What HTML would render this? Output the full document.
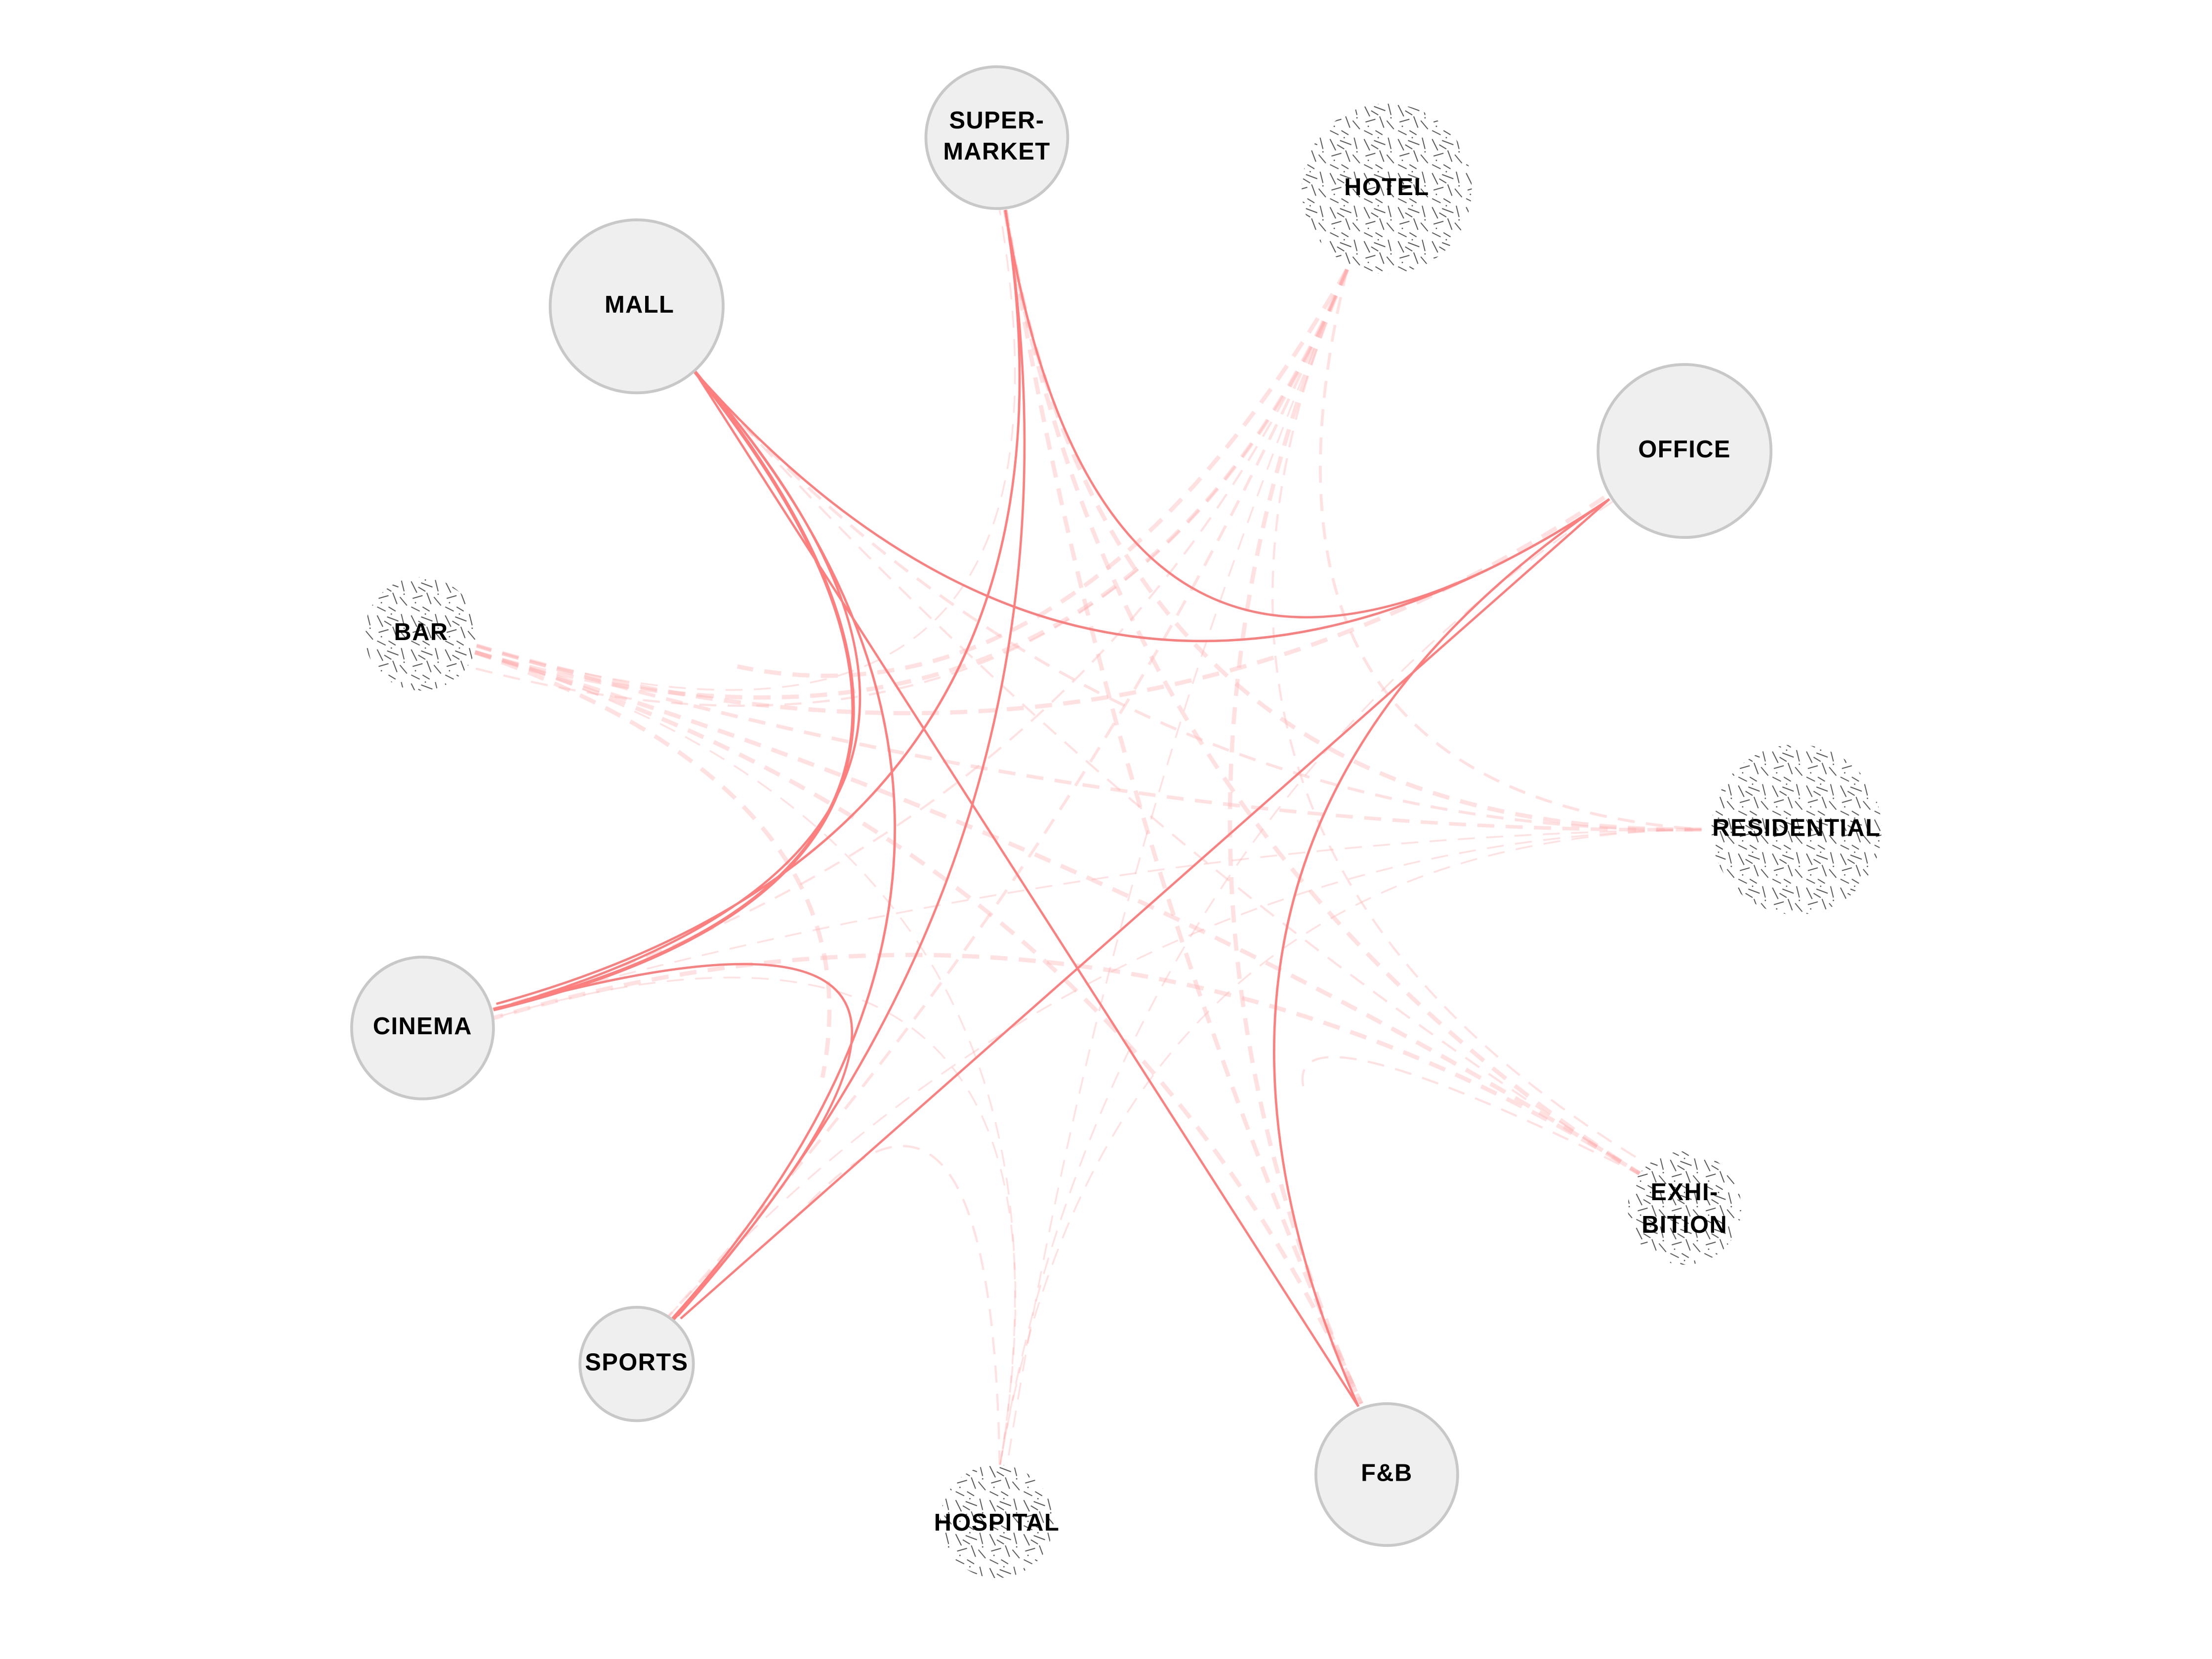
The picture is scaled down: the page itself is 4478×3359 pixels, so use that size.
<!DOCTYPE html>
<html><head><meta charset="utf-8"><style>
html,body{margin:0;padding:0;background:#fff}
svg{display:block}
text{font-family:"Liberation Sans Narrow","Liberation Sans","Noto Sans CJK SC",sans-serif;font-size:17px;font-weight:600;fill:#000;text-anchor:middle;dominant-baseline:middle;letter-spacing:0.5px}
</style></head><body>
<svg width="4478" height="3359" viewBox="0 0 1560 1170" xmlns="http://www.w3.org/2000/svg">
<defs>
<pattern id="tex" width="24" height="24" patternUnits="userSpaceOnUse">
<g stroke="#555" stroke-width="0.7" fill="none">
<line x1="2" y1="2" x2="6" y2="10"/><line x1="9" y1="3" x2="17" y2="6"/><line x1="19" y1="1" x2="21" y2="9"/>
<line x1="3" y1="14" x2="10" y2="12"/><line x1="13" y1="10" x2="16" y2="18"/><line x1="18" y1="13" x2="23" y2="19"/>
<line x1="2" y1="20" x2="8" y2="23"/><line x1="10" y1="20" x2="15" y2="23"/><line x1="7" y1="6" x2="12" y2="9"/>
</g>
<g fill="#555"><circle cx="5" cy="17" r="0.5"/><circle cx="21" cy="11" r="0.5"/><circle cx="12" cy="1" r="0.5"/></g>
</pattern>
</defs>
<g fill="none" stroke="#ffb0b0" stroke-opacity="0.38" stroke-dasharray="12 8">
<path d="M950 190 Q780 590 335 460" stroke-width="3"/>
<path d="M950 190 Q780 590 330 470" stroke-width="1.5"/>
<path d="M950 190 Q780 590 345 712" stroke-width="1.5"/>
<path d="M950 190 Q780 590 470 930" stroke-width="2"/>
<path d="M950 190 Q780 590 710 1035" stroke-width="1.2"/>
<path d="M950 190 Q780 590 960 990" stroke-width="3"/>
<path d="M950 190 Q780 590 1160 820" stroke-width="1.5"/>
<path d="M950 190 Q860 560 1200 585" stroke-width="2"/>
<path d="M950 190 Q760 520 520 470" stroke-width="3"/>
<path d="M335 455 Q780 590 1200 585" stroke-width="2.5"/>
<path d="M335 460 Q780 590 1160 830" stroke-width="3"/>
<path d="M335 460 Q780 590 960 990" stroke-width="3"/>
<path d="M335 460 Q780 590 705 1035" stroke-width="1.2"/>
<path d="M335 455 Q780 590 1140 345" stroke-width="3"/>
<path d="M335 455 Q780 590 705 148" stroke-width="1.2"/>
<path d="M335 460 Q620 560 580 760" stroke-width="3"/>
<path d="M1200 585 Q780 590 490 262" stroke-width="2"/>
<path d="M1200 585 Q780 590 709 148" stroke-width="3"/>
<path d="M1200 585 Q780 590 348 712" stroke-width="1.2"/>
<path d="M1200 585 Q780 590 470 930" stroke-width="1.2"/>
<path d="M1200 585 Q780 590 705 1035" stroke-width="1.2"/>
<path d="M1160 830 Q780 590 490 262" stroke-width="1.5"/>
<path d="M1160 830 Q780 590 709 148" stroke-width="3"/>
<path d="M1160 830 Q780 590 348 718" stroke-width="3"/>
<path d="M1160 830 Q900 700 920 770" stroke-width="1.5"/>
<path d="M705 1035 Q780 590 348 718" stroke-width="1.2"/>
<path d="M705 1035 Q780 590 1140 352" stroke-width="1.2"/>
<path d="M705 1035 Q700 700 560 860" stroke-width="1.5"/>
<path d="M709 148 Q780 590 960 990" stroke-width="3"/>
</g>
<g fill="none" stroke="#ff7f7f" stroke-width="1.6">
<path d="M490 262 Q780 590 348 712"/>
<path d="M490 262 Q770 610 348 712" stroke-width="2.5"/>
<path d="M490 262 Q780 590 474 930"/>
<path d="M490 262 Q780 590 1135 352"/>
<path d="M490 262 L958 992"/>
<path d="M709 148 Q780 590 350 708"/>
<path d="M709 148 Q780 590 478 928"/>
<path d="M709 148 Q780 590 1135 352"/>
<path d="M1135 352 L480 930"/>
<path d="M1135 352 Q780 590 958 992"/>
<path d="M348 712 Q780 590 474 932"/>
</g>
<g stroke="#c8c8c8" stroke-width="2" fill="#efefef">
<circle cx="703" cy="97" r="50"/>
<circle cx="449" cy="216" r="61"/>
<circle cx="1188" cy="318" r="61"/>
<circle cx="298" cy="725" r="50"/>
<circle cx="449" cy="962" r="40"/>
<circle cx="978" cy="1040" r="50"/>
</g>
<g fill="#fff"><circle cx="978" cy="133" r="60"/><circle cx="297" cy="447" r="40"/><circle cx="1267" cy="585" r="60"/><circle cx="1188" cy="852" r="40"/><circle cx="703" cy="1073" r="40"/></g>
<g fill="url(#tex)"><circle cx="978" cy="133" r="60"/><circle cx="297" cy="447" r="40"/><circle cx="1267" cy="585" r="60"/><circle cx="1188" cy="852" r="40"/><circle cx="703" cy="1073" r="40"/></g>
<text x="703" y="86">SUPER-</text><text x="703" y="108">MARKET</text>
<text x="978" y="133">HOTEL</text>
<text x="451" y="216">MALL</text>
<text x="1188" y="318">OFFICE</text>
<text x="297" y="447">BAR</text>
<text x="1267" y="585">RESIDENTIAL</text>
<text x="298" y="725">CINEMA</text>
<text x="1188" y="842">EXHI-</text><text x="1188" y="865">BITION</text>
<text x="449" y="962">SPORTS</text>
<text x="703" y="1075">HOSPITAL</text>
<text x="978" y="1040">F&amp;B</text>
</svg>
</body></html>
